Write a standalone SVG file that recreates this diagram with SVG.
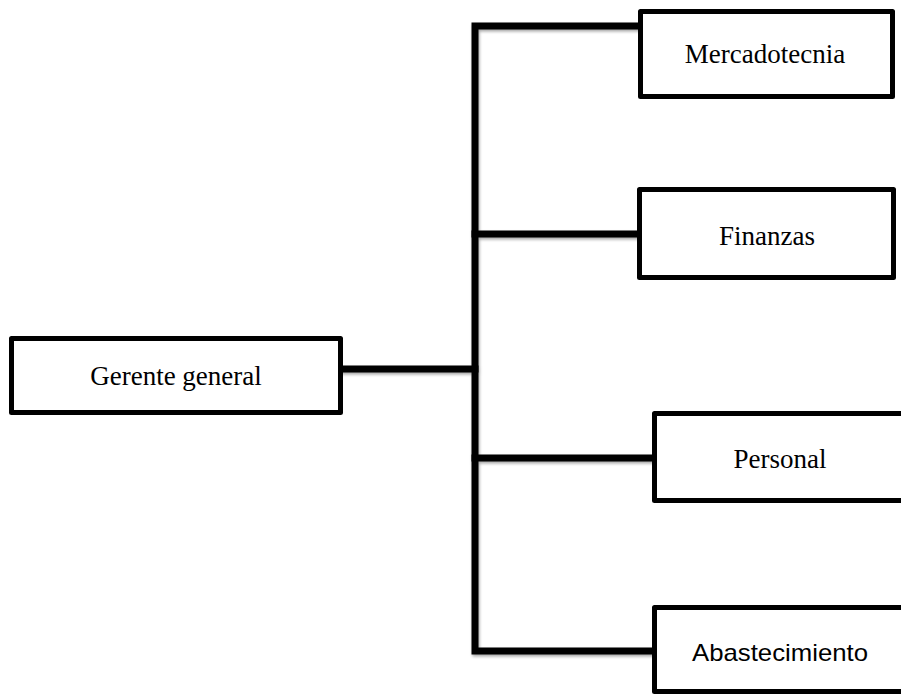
<svg xmlns="http://www.w3.org/2000/svg" width="901" height="697" viewBox="0 0 901 697">
<style>
.box{fill:#fff;stroke:#000;stroke-width:5;stroke-linejoin:round}
.lbl{font-family:"Liberation Serif","Times New Roman",serif;font-size:27px;fill:#000;text-anchor:middle}
.lbls{font-family:"Liberation Sans",Arial,sans-serif;font-size:24px;fill:#000;text-anchor:middle}
.conn{fill:none;stroke:#000;stroke-width:7;stroke-linecap:square;stroke-linejoin:miter}
</style>
<defs>
<filter id="sh" x="-5%" y="-5%" width="110%" height="110%">
<feGaussianBlur in="SourceAlpha" stdDeviation="1.5"/>
<feOffset dx="1" dy="2" result="b"/>
<feComponentTransfer><feFuncA type="linear" slope="0.35"/></feComponentTransfer>
<feMerge><feMergeNode/><feMergeNode in="SourceGraphic"/></feMerge>
</filter>
</defs>
<rect width="901" height="697" fill="#fff"/>
<g id="connectors" filter="url(#sh)">
<path class="conn" d="M638 26 H475 V651 H652"/>
<path class="conn" d="M475 234 H638"/>
<path class="conn" d="M343 369 H475"/>
<path class="conn" d="M475 458 H652"/>
</g>
<g id="gerente">
<rect class="box" x="11.5" y="338.5" width="329" height="74"/>
<text class="lbl" x="176" y="385">Gerente general</text>
</g>
<g id="mercadotecnia">
<rect class="box" x="640.5" y="11.5" width="252" height="85"/>
<text class="lbl" x="765" y="63">Mercadotecnia</text>
</g>
<g id="finanzas">
<rect class="box" x="639.5" y="189.5" width="254" height="88"/>
<text class="lbl" x="767" y="245">Finanzas</text>
</g>
<g id="personal">
<rect class="box" x="654.5" y="413.5" width="260" height="87"/>
<text class="lbl" x="780" y="468">Personal</text>
</g>
<g id="abastecimiento">
<rect class="box" x="654.5" y="607.5" width="260" height="84"/>
<text class="lbls" x="780" y="661" textLength="176" lengthAdjust="spacingAndGlyphs">Abastecimiento</text>
</g>
</svg>
